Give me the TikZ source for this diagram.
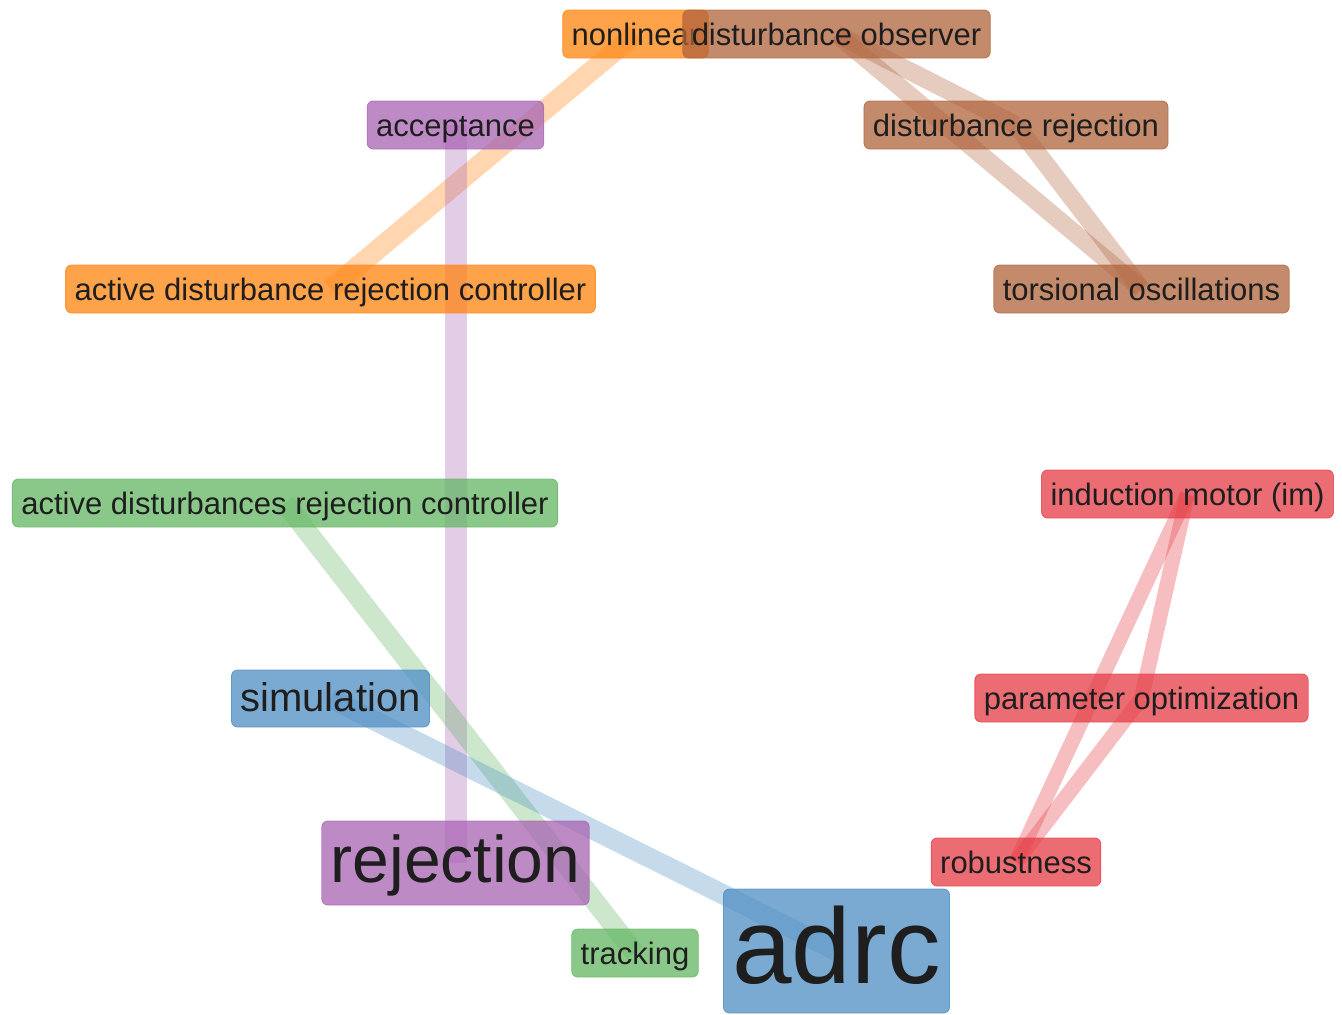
\documentclass[tikz,border=0pt]{standalone}
\usepackage{fontspec}
\setmainfont{Liberation Sans}
\usetikzlibrary{positioning}

\definecolor{clorange}{RGB}{255,132,15}
\definecolor{clbrown}{RGB}{176,99,59}
\definecolor{clpurple}{RGB}{168,99,179}
\definecolor{clgreen}{RGB}{99,182,99}
\definecolor{clblue}{RGB}{78,142,195}
\definecolor{clred}{RGB}{230,59,68}
\definecolor{labeltext}{RGB}{30,30,30}

\pgfdeclarelayer{background}
\pgfsetlayers{background,main}

\begin{document}
\begin{tikzpicture}[x=1pt,y=-1pt,
        term/.style={rectangle,rounded corners=6pt,draw=#1,fill=#1,fill opacity=0.75,draw opacity=0.8,
          text opacity=1,text=labeltext,inner xsep=9pt,inner ysep=0pt,line width=0.8pt},
        small term/.style={font=\fontsize{31}{31}\selectfont,text height=26pt,text depth=4pt,minimum height=48pt},
        mid term/.style={font=\fontsize{40}{40}\selectfont,text height=31pt,text depth=6pt,minimum height=57pt},
        big term/.style={font=\fontsize{66}{66}\selectfont,text height=50pt,text depth=12pt,minimum height=84pt},
        huge term/.style={font=\fontsize{107}{107}\selectfont,text height=82pt,text depth=18pt,minimum height=124pt},
        link/.style={draw=#1,draw opacity=0.33,line width=20pt}]

        \useasboundingbox (0,0) rectangle (1342,1015);

        % orange cluster
        \node[term=clorange,small term] (nonlinear) at (635.5,34) {nonlinear};
        \node[term=clorange,small term] (adrcontroller) at (330.5,289) {active disturbance rejection controller};

        % brown cluster
        \node[term=clbrown,small term] (observer) at (836.5,34) {disturbance observer};
        \node[term=clbrown,small term] (distrej) at (1016,125) {disturbance rejection};
        \node[term=clbrown,small term] (torsional) at (1141.5,289) {torsional oscillations};

        % purple cluster
        \node[term=clpurple,small term] (acceptance) at (455.5,125) {acceptance};
        \node[term=clpurple,big term] (rejection) at (455.5,863) {rejection};

        % green cluster
        \node[term=clgreen,small term] (adrscontroller) at (285,503) {active disturbances rejection controller};
        \node[term=clgreen,small term] (tracking) at (635,953) {tracking};

        % blue cluster
        \node[term=clblue,mid term] (simulation) at (330.5,698.5) {simulation};
        \node[term=clblue,huge term] (adrc) at (836.5,951) {adrc};

        % red cluster
        \node[term=clred,small term] (motor) at (1187.5,494) {induction motor (im)};
        \node[term=clred,small term] (paramopt) at (1141.5,698) {parameter optimization};
        \node[term=clred,small term] (robustness) at (1016,862) {robustness};

        \begin{pgfonlayer}{background}
          \path (nonlinear.center) edge[link=clorange] (adrcontroller.center);
          \path (observer.center) edge[link=clbrown,line width=18pt] (distrej.center)
                (observer.center) edge[link=clbrown,line width=18pt] (torsional.center)
                (distrej.center) edge[link=clbrown,line width=18pt] (torsional.center);
          \path (acceptance.center) edge[link=clpurple,line width=22pt] (rejection.center);
          \path (adrscontroller.center) edge[link=clgreen] (tracking.center);
          \path (simulation.center) edge[link=clblue] (adrc.center);
          \path (motor.center) edge[link=clred,line width=15pt] (paramopt.center)
                (motor.center) edge[link=clred,line width=15pt] (robustness.center)
                (paramopt.center) edge[link=clred,line width=15pt] (robustness.center);
        \end{pgfonlayer}
\end{tikzpicture}
\end{document}
